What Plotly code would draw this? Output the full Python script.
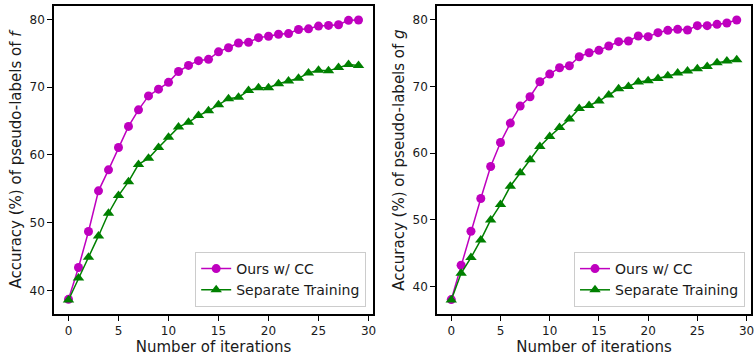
import plotly.graph_objects as go

iterations = list(range(30))

f_ours = [38.7, 43.4, 48.7, 54.7, 57.8, 61.1, 64.2, 66.65, 68.7, 69.7,
          70.7, 72.3, 73.2, 73.9, 74.1, 75.2, 75.8, 76.5, 76.6, 77.3,
          77.5, 77.8, 77.9, 78.5, 78.6, 79.0, 79.1, 79.2, 79.85, 79.9]
f_sep = [38.6, 41.85, 44.9, 48.05, 51.4, 54.0, 56.05, 58.6, 59.5, 61.1,
         62.6, 64.1, 64.8, 65.8, 66.5, 67.4, 68.3, 68.5, 69.5, 69.9,
         69.9, 70.5, 70.9, 71.3, 72.1, 72.5, 72.4, 72.9, 73.35, 73.2]
g_ours = [38.06, 43.2, 48.3, 53.2, 58.0, 61.6, 64.5, 67.05, 68.45, 70.7,
          71.85, 72.8, 73.1, 74.45, 75.05, 75.4, 76.05, 76.7, 76.8, 77.55,
          77.45, 78.05, 78.4, 78.55, 78.45, 79.1, 79.1, 79.3, 79.5, 79.95]
g_sep = [38.0, 42.0, 44.35, 47.0, 50.0, 52.3, 55.05, 57.05, 59.0, 61.0,
         62.5, 63.85, 65.1, 66.7, 67.15, 67.8, 68.7, 69.65, 70.0, 70.65,
         70.85, 71.2, 71.6, 72.0, 72.3, 72.65, 73.0, 73.55, 73.8, 74.0]

series_names = ["Ours w/ CC", "Separate Training"]
x_ticks = [0, 5, 10, 15, 20, 25, 30]
y_ticks = [40, 50, 60, 70, 80]
x_title = "Number of iterations"
y_titles = ["Accuracy (%) of pseudo-labels of <i>f</i>",
            "Accuracy (%) of pseudo-labels of <i>g</i>"]

MAG = "#bf00bf"
GRN = "#008000"
FONT = "DejaVu Sans"


def padded(vals):
    lo, hi = min(vals), max(vals)
    m = 0.05 * (hi - lo)
    return [lo - m, hi + m]


fig = go.Figure()
panels = [(f_ours, f_sep, "x", "y", "legend"), (g_ours, g_sep, "x2", "y2", "legend2")]
for ours, sep, xa, ya, lg in panels:
    fig.add_trace(go.Scatter(x=iterations, y=ours, mode="lines+markers", name=series_names[0],
                             line=dict(color=MAG, width=1.5),
                             marker=dict(symbol="circle", size=9, color=MAG),
                             xaxis=xa, yaxis=ya, legend=lg))
    fig.add_trace(go.Scatter(x=iterations, y=sep, mode="lines+markers", name=series_names[1],
                             line=dict(color=GRN, width=1.5),
                             marker=dict(symbol="triangle-up", size=10, color=GRN),
                             xaxis=xa, yaxis=ya, legend=lg))

axis_common = dict(showline=True, linecolor="black", linewidth=1.5, mirror=True,
                   ticks="outside", ticklen=5, tickwidth=1.2, tickcolor="black",
                   showgrid=False, zeroline=False, automargin=False,
                   ticklabeloverflow="allow",
                   tickfont=dict(family=FONT, size=12, color="#1a1a1a"))

xr = padded(iterations)
legend_common = dict(bgcolor="rgba(255,255,255,0.8)", bordercolor="#cccccc", borderwidth=1,
                     font=dict(family=FONT, size=14, color="#1a1a1a"),
                     xanchor="right", yanchor="bottom", y=0.0227, itemwidth=30,
                     tracegroupgap=0)

fig.update_layout(
    template="none",
    width=756, height=357,
    margin=dict(l=54, r=5, t=6, b=43),
    plot_bgcolor="white", paper_bgcolor="white",
    font=dict(family=FONT, color="#1a1a1a"),
    xaxis=dict(domain=[0, 0.4577], range=xr, tickvals=x_ticks, anchor="y",
               title=dict(text=x_title, font=dict(family=FONT, size=15), standoff=3),
               **axis_common),
    yaxis=dict(domain=[0, 1], range=padded(f_ours + f_sep), tickvals=y_ticks, anchor="x",
               title=dict(text=y_titles[0], font=dict(family=FONT, size=15), standoff=4),
               **axis_common),
    xaxis2=dict(domain=[0.5495, 1], range=xr, tickvals=x_ticks, anchor="y2",
                title=dict(text=x_title, font=dict(family=FONT, size=15), standoff=3),
                **axis_common),
    yaxis2=dict(domain=[0, 1], range=padded(g_ours + g_sep), tickvals=y_ticks, anchor="x2",
                title=dict(text=y_titles[1], font=dict(family=FONT, size=15), standoff=4),
                **axis_common),
    legend=dict(x=0.4479, **legend_common),
    legend2=dict(x=0.9914, **legend_common),
)

fig.write_html("out.html", config={"displayModeBar": False},
               post_script="document.body.style.margin='0';document.body.style.overflow='hidden';")
